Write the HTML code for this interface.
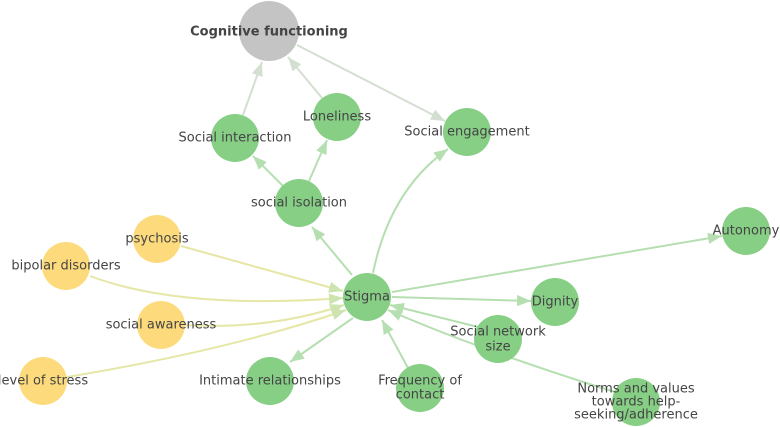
<!DOCTYPE html>
<html><head><meta charset="utf-8"><style>
html,body{margin:0;padding:0;background:#fff;width:780px;height:427px;overflow:hidden}
text{font-family:"DejaVu Sans","Liberation Sans",sans-serif;font-size:13px;fill:#444;text-anchor:middle;dominant-baseline:middle}
</style></head><body>
<svg width="780" height="427" viewBox="0 0 780 427" xmlns="http://www.w3.org/2000/svg">
<defs>
<marker id="ag" viewBox="0 0 10 10" refX="10" refY="5" markerWidth="7" markerHeight="7" orient="auto"><path d="M0,1 L10,5 L0,9 z" fill="#b5dfb0"/></marker>
<marker id="ay" viewBox="0 0 10 10" refX="10" refY="5" markerWidth="7" markerHeight="7" orient="auto"><path d="M0,1 L10,5 L0,9 z" fill="#cde4b0"/></marker>
<marker id="ac" viewBox="0 0 10 10" refX="10" refY="5" markerWidth="7" markerHeight="7" orient="auto"><path d="M0,1 L10,5 L0,9 z" fill="#d3dfd0"/></marker>
</defs>
<g fill="none" stroke-width="2">
<path d="M243,115 L262,62" stroke="#d3dfd0" marker-end="url(#ac)"/>
<path d="M322,98 L288,57" stroke="#d3dfd0" marker-end="url(#ac)"/>
<path d="M297,45 L445,121" stroke="#d3dfd0" marker-end="url(#ac)"/>
<path d="M283,186 L253,156" stroke="#b5dfb0" marker-end="url(#ag)"/>
<path d="M309,181 L327,140" stroke="#b5dfb0" marker-end="url(#ag)"/>
<path d="M352,275 L312,227" stroke="#b5dfb0" marker-end="url(#ag)"/>
<path d="M373,273 Q390,190 448,149" stroke="#b5dfb0" marker-end="url(#ag)"/>
<path d="M392,292 L722,236" stroke="#b5dfb0" marker-end="url(#ag)"/>
<path d="M392,297 L531,301" stroke="#b5dfb0" marker-end="url(#ag)"/>
<path d="M478,327 L390,305" stroke="#b5dfb0" marker-end="url(#ag)"/>
<path d="M615,392 Q480,350 388,310" stroke="#b5dfb0" marker-end="url(#ag)"/>
<path d="M408,368 L382,320" stroke="#b5dfb0" marker-end="url(#ag)"/>
<path d="M353,318 L290,362" stroke="#b5dfb0" marker-end="url(#ag)"/>
<path d="M181,246 L343,291" stroke="#e6e6a6" marker-end="url(#ay)"/>
<path d="M90,276 Q180,310 343,298" stroke="#e6e6a6" marker-end="url(#ay)"/>
<path d="M185,325 Q270,330 344,305" stroke="#e6e6a6" marker-end="url(#ay)"/>
<path d="M67,377 Q230,350 346,310" stroke="#e6e6a6" marker-end="url(#ay)"/>
</g>
<g>
<circle cx="269" cy="31" r="30" fill="#c4c4c4"/>
<circle cx="235" cy="138" r="24" fill="#86cf85"/>
<circle cx="337" cy="117" r="24" fill="#86cf85"/>
<circle cx="467" cy="132" r="24" fill="#86cf85"/>
<circle cx="299" cy="203" r="24" fill="#86cf85"/>
<circle cx="367" cy="297" r="24" fill="#86cf85"/>
<circle cx="746" cy="231" r="24" fill="#86cf85"/>
<circle cx="555" cy="302" r="24" fill="#86cf85"/>
<circle cx="498" cy="339" r="24" fill="#86cf85"/>
<circle cx="270" cy="381" r="24" fill="#86cf85"/>
<circle cx="420" cy="388" r="24" fill="#86cf85"/>
<circle cx="636" cy="402" r="24" fill="#86cf85"/>
<circle cx="157" cy="239" r="24" fill="#fddb7c"/>
<circle cx="66" cy="266" r="24" fill="#fddb7c"/>
<circle cx="161" cy="325" r="24" fill="#fddb7c"/>
<circle cx="43" cy="381" r="24" fill="#fddb7c"/>
</g>
<text x="269" y="32" style="font-weight:bold">Cognitive functioning</text>
<text x="235" y="138">Social interaction</text>
<text x="337" y="117">Loneliness</text>
<text x="467" y="132">Social engagement</text>
<text x="299" y="203">social isolation</text>
<text x="367" y="297">Stigma</text>
<text x="746" y="231">Autonomy</text>
<text x="555" y="302">Dignity</text>
<text x="498" y="332">Social network</text>
<text x="498" y="347">size</text>
<text x="270" y="381">Intimate relationships</text>
<text x="420" y="381">Frequency of</text>
<text x="420" y="395">contact</text>
<text x="636" y="389">Norms and values</text>
<text x="636" y="402">towards help-</text>
<text x="636" y="415">seeking/adherence</text>
<text x="157" y="239">psychosis</text>
<text x="66" y="266">bipolar disorders</text>
<text x="161" y="325">social awareness</text>
<text x="43" y="381">level of stress</text>
</svg>
</body></html>
